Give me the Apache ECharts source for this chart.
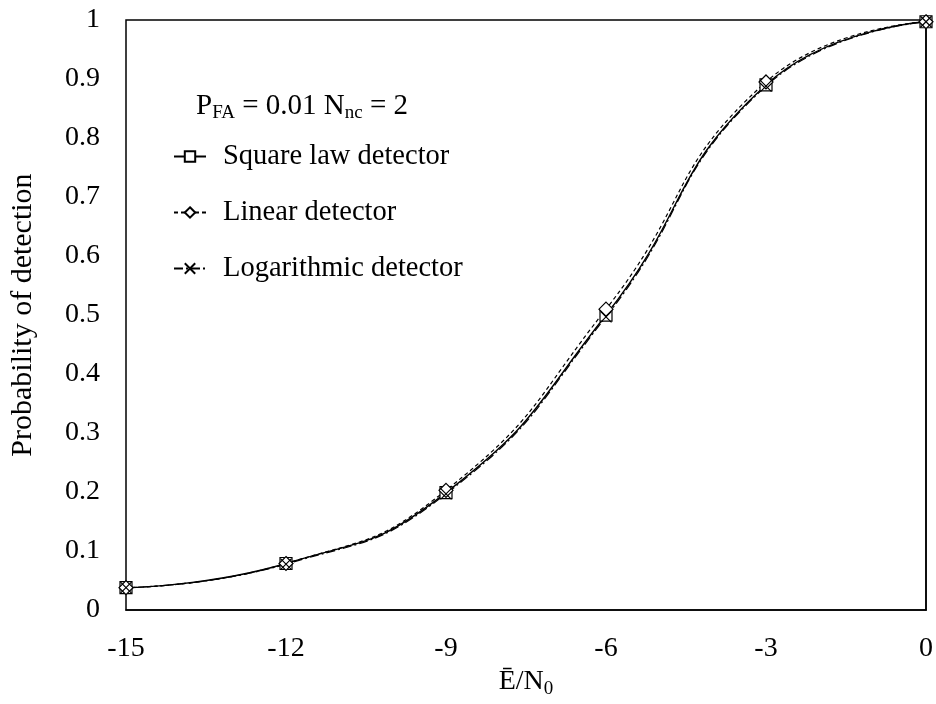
<!DOCTYPE html>
<html>
<head>
<meta charset="utf-8">
<script src="https://cdn.jsdelivr.net/npm/echarts@6/dist/echarts.min.js"></script>
<style>
  html, body { margin: 0; padding: 0; background: #fff; }
  #chart { width: 936px; height: 704px; }
</style>
</head>
<body>
<div id="chart"></div>
<script>
// E/N0 in dB
const snr = [-15, -12, -9, -6, -3, 0];
// probability of detection for each detector type
const squareLaw = [0.038, 0.079, 0.199, 0.500, 0.890, 0.997];
const linear = [0.038, 0.079, 0.203, 0.510, 0.895, 0.997];
const logarithmic = [0.038, 0.078, 0.197, 0.497, 0.888, 0.997];

const seriesNames = ['Square law detector', 'Linear detector', 'Logarithmic detector'];

const FONT = '"Liberation Serif", "Times New Roman", serif';
const crossPath = 'path://M0,0L10,10M10,0L0,10';

function pairs(ys) {
  return snr.map((x, i) => [x, ys[i]]);
}

// main text plus a lowered, smaller subscript fragment
function subRich(size) {
  return {
    m: { fontFamily: FONT, fontSize: size, fontWeight: 'normal', color: '#000', lineHeight: 30, verticalAlign: 'top' },
    s: { fontFamily: FONT, fontSize: 19, fontWeight: 'normal', color: '#000', lineHeight: 19, verticalAlign: 'top', padding: [12, 0, 0, 0] }
  };
}

const chart = echarts.init(document.getElementById('chart'), null, { renderer: 'canvas' });

const baseSeries = {
  type: 'line',
  smooth: 0.5,
  symbolSize: 11,
  itemStyle: { color: '#fff', borderColor: '#000', borderWidth: 1.2 },
  emphasis: { disabled: true },
  z: 3
};

chart.setOption({
  animation: false,
  backgroundColor: '#fff',
  grid: { left: 121, right: 7, top: 20, bottom: 92, show: true, borderColor: '#000', borderWidth: 1.5, backgroundColor: 'transparent' },
  title: {
    left: 196,
    top: 92,
    padding: 0,
    text: '{m|P}{s|FA}{m| = 0.01 N}{s|nc}{m| = 2}',
    textStyle: { fontWeight: 'normal', rich: subRich(29) }
  },
  legend: {
    left: 168,
    top: 137,
    orient: 'vertical',
    itemWidth: 32,
    itemHeight: 13,
    itemGap: 27,
    data: seriesNames,
    textStyle: { fontFamily: FONT, fontSize: 28.5, color: '#000', padding: [0, 0, 0, 12] },
    selectedMode: false
  },
  xAxis: {
    type: 'value',
    min: -15,
    max: 0,
    interval: 3,
    name: '{m|Ē/N}{s|0}',
    nameLocation: 'middle',
    nameGap: 56,
    nameTextStyle: { rich: subRich(28) },
    axisLine: { show: true, lineStyle: { color: '#000', width: 1.5 } },
    axisTick: { show: false },
    splitLine: { show: false },
    axisLabel: { fontFamily: FONT, fontSize: 28, color: '#000', margin: 25 }
  },
  yAxis: {
    type: 'value',
    min: 0,
    max: 1,
    interval: 0.1,
    name: 'Probability of detection',
    nameLocation: 'middle',
    nameGap: 88,
    nameTextStyle: { fontFamily: FONT, fontSize: 30, color: '#000' },
    axisLine: { show: true, lineStyle: { color: '#000', width: 1.5 } },
    axisTick: { show: false },
    splitLine: { show: false },
    axisLabel: { fontFamily: FONT, fontSize: 28, color: '#000', margin: 26, formatter: v => String(Math.round(v * 10) / 10) }
  },
  series: [
    Object.assign({}, baseSeries, {
      name: seriesNames[0],
      data: pairs(squareLaw),
      symbol: 'rect',
      symbolSize: 12,
      lineStyle: { color: '#000', width: 1.4, type: 'solid' }
    }),
    Object.assign({}, baseSeries, {
      name: seriesNames[1],
      data: pairs(linear),
      symbol: 'diamond',
      symbolSize: 14,
      lineStyle: { color: '#000', width: 1.2, type: [4, 3] }
    }),
    Object.assign({}, baseSeries, {
      name: seriesNames[2],
      data: pairs(logarithmic),
      symbol: crossPath,
      symbolSize: 11,
      lineStyle: { color: '#000', width: 1.2, type: [9, 3, 2, 3] }
    })
  ]
});
</script>
</body>
</html>
